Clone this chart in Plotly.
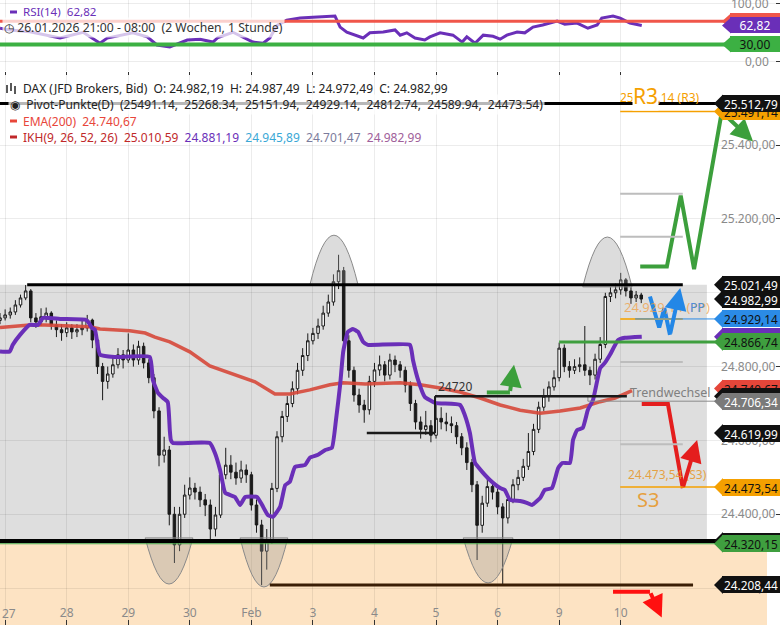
import plotly.graph_objects as go

# ---------------- data ----------------
day_labels = ["27", "28", "29", "30", "Feb", "3", "4", "5", "6", "9", "10"]

first_open = 24925
close = [24932, 24940, 24948, 24967, 24986, 25005, 24932, 24921, 24935, 24945,
         24913, 24900, 24892, 24905, 24894, 24900, 24905, 24926, 24872, 24800,
         24760, 24780, 24805, 24832, 24818, 24845, 24818, 24855, 24810, 24770,
         24680, 24560, 24574, 24400, 24317, 24400, 24452, 24471, 24460, 24439,
         24425, 24360, 24398, 24507, 24533, 24514, 24498, 24520, 24507, 24425,
         24371, 24300, 24330, 24470, 24610, 24665, 24700, 24740, 24790, 24830,
         24870, 24890, 24910, 24945, 24975, 25030, 25060, 24870, 24790, 24723,
         24696, 24683, 24760, 24791, 24805, 24777, 24818, 24805, 24790, 24750,
         24700, 24650, 24630, 24640, 24614, 24660, 24650, 24645, 24640, 24610,
         24580, 24540, 24480, 24370, 24430, 24475, 24460, 24420, 24390, 24440,
         24480, 24500, 24530, 24570, 24630, 24690, 24720, 24745, 24770, 24850,
         24800, 24790, 24800, 24805, 24790, 24777, 24820, 24860, 24990, 25000,
         25008, 25035, 25005, 24986, 24994, 24983]
high = [24945, 24955, 24960, 24980, 24995, 25021, 25010, 24945, 24958, 24960,
        24950, 24925, 24915, 24920, 24915, 24915, 24925, 24940, 24930, 24880,
        24810, 24800, 24825, 24850, 24845, 24890, 24860, 24870, 24865, 24820,
        24780, 24690, 24610, 24585, 24420, 24420, 24480, 24500, 24485, 24475,
        24455, 24440, 24420, 24520, 24580, 24560, 24540, 24545, 24535, 24515,
        24440, 24385, 24360, 24485, 24625, 24680, 24720, 24760, 24810, 24850,
        24890, 24905, 24930, 24965, 24995, 25050, 25103, 25070, 24885, 24800,
        24740, 24710, 24775, 24810, 24830, 24815, 24835, 24830, 24815, 24800,
        24760, 24710, 24665, 24680, 24655, 24700, 24690, 24675, 24665, 24650,
        24620, 24595, 24550, 24490, 24450, 24500, 24490, 24470, 24430, 24455,
        24495, 24520, 24550, 24620, 24645, 24705, 24740, 24760, 24790, 24865,
        24860, 24815, 24820, 24825, 24910, 24800, 24835, 24880, 25000, 25015,
        25025, 25054, 25040, 25015, 25005, 25000]
low = [24915, 24925, 24930, 24940, 24960, 24980, 24920, 24905, 24910, 24920,
       24900, 24880, 24870, 24880, 24875, 24880, 24885, 24895, 24850, 24780,
       24709, 24740, 24770, 24795, 24795, 24810, 24800, 24805, 24795, 24755,
       24660, 24530, 24540, 24370, 24268, 24300, 24390, 24440, 24440, 24420,
       24395, 24325, 24340, 24390, 24495, 24495, 24480, 24485, 24485, 24410,
       24350, 24208, 24250, 24320, 24460, 24595, 24650, 24690, 24725, 24775,
       24815, 24860, 24875, 24900, 24935, 24965, 25010, 24850, 24770, 24705,
       24675, 24648, 24670, 24745, 24775, 24760, 24765, 24785, 24770, 24730,
       24680, 24630, 24605, 24615, 24595, 24605, 24630, 24625, 24620, 24590,
       24560, 24520, 24460, 24276, 24350, 24420, 24440, 24400, 24210, 24375,
       24430, 24465, 24490, 24520, 24560, 24620, 24680, 24705, 24735, 24760,
       24785, 24770, 24780, 24785, 24775, 24750, 24765, 24810, 24850, 24975,
       24985, 24995, 24990, 24970, 24975, 24972]

ema_x = [0, 5.8, 8.8, 17.5, 19.5, 25.3, 28.3, 30.2, 33.1, 37.0, 40.9, 44.8, 49.7, 53.6, 56.5, 60.4,
         64.3, 66.9, 71.2, 78.0, 81.9, 85.8, 89.7, 93.6, 97.5, 101.4, 105.3, 109.2, 113.1, 117.0, 119.9, 123.2]
ema_v = [24906, 24913, 24913, 24908, 24902, 24897, 24891, 24880, 24867, 24840, 24802, 24783, 24759, 24726,
         24726, 24737, 24751, 24756, 24753, 24756, 24751, 24742, 24731, 24715, 24696, 24682, 24674, 24680,
         24688, 24705, 24715, 24735]

ikh_x = [0, 1.9, 2.5, 3.9, 5.8, 7.4, 8.4, 11.7, 16.6, 17.2, 17.9, 18.5, 19.5, 22.4, 29.2, 29.8, 30.8, 31.8,
         32.7, 33.1, 33.3, 33.7, 40.9, 41.9, 42.9, 43.9, 45.8, 46.8, 47.8, 50.1, 51.1, 52.2, 53.2, 54.6, 55.6,
         56.5, 57.5, 59.5, 60.4, 62.0, 63.4, 64.7, 65.5, 66.3, 66.9, 67.8, 68.8, 69.8, 70.8, 71.7, 79.9, 80.5,
         81.5, 82.8, 84.8, 89.7, 90.6, 91.6, 92.6, 94.0, 95.5, 97.5, 98.4, 99.4, 101.4, 102.7, 103.7, 105.3,
         106.2, 107.6, 108.8, 109.6, 111.1, 111.7, 112.5, 113.6, 114.6, 115.6, 117.0, 117.9, 118.9, 120.5,
         121.8, 125.1]
ikh_v = [24841, 24841, 24859, 24886, 24913, 24913, 24932, 24929, 24927, 24921, 24905, 24900, 24832, 24826,
         24826, 24764, 24729, 24715, 24704, 24628, 24601, 24593, 24593, 24566, 24520, 24458, 24447, 24425,
         24447, 24447, 24425, 24398, 24393, 24420, 24479, 24488, 24528, 24534, 24553, 24561, 24574, 24580,
         24656, 24750, 24840, 24894, 24902, 24894, 24867, 24859, 24859, 24818, 24764, 24718, 24702, 24696,
         24669, 24620, 24539, 24515, 24493, 24471, 24466, 24439, 24436, 24431, 24425, 24444, 24466, 24471,
         24525, 24539, 24539, 24601, 24628, 24634, 24683, 24710, 24796, 24810, 24832, 24872, 24878, 24881]

rsi_x = [0, 1.9, 5.8, 9.7, 11.7, 16.2, 19.5, 20.9, 25.9, 28.7, 30.6, 33.1, 36.5, 39.0, 41.5, 42.5, 45.4,
         49.3, 51.3, 52.6, 54.0, 55.9, 58.5, 61.0, 65.3, 66.3, 67.6, 70.8, 72.1, 74.7, 77.0, 78.0, 79.3, 80.9,
         82.8, 83.8, 85.8, 88.3, 90.1, 91.0, 92.6, 94.2, 96.1, 97.5, 98.8, 100.8, 102.3, 103.9, 105.8, 108.6,
         110.1, 112.5, 114.6, 116.4, 117.3, 119.5, 120.9, 122.8, 125.1]
rsi_v = [58, 55, 52, 44, 41, 51, 32, 41, 50, 43, 29, 25.5, 37.6, 39, 34, 42, 51, 34, 32, 41, 63, 72, 75.6,
         77, 79, 60, 51, 41, 50, 51.5, 55, 46, 50, 41, 37.6, 43, 50, 46, 34, 43, 32, 46, 44, 39, 46, 51.5, 50,
         60, 63.6, 70.5, 65, 67, 58, 63.6, 75.6, 79, 75.6, 67, 62.82]

# pivot levels R3, R2, R1, PP, S1, S2, S3
pivots = [25491.14, 25268.34, 25151.94, 24929.14, 24812.74, 24589.94, 24473.54]
level_r3_line = 25512.79
level_top = 25021.49
level_box_low = 24327.56
level_support = 24320.15
level_low = 24208.44
level_green = 24866.74
level_trend = 24706.34
level_step_low = 24619.99
level_step_high = 24720

rsi_upper, rsi_lower, rsi_last = 70, 30, 62.82

# right-hand price tags (value, background, text colour)
main_tags = [
    (25491.14, "#f5a000", "#111111"),
    (25512.79, "#111111", "#ffffff"),
    (25021.49, "#111111", "#ffffff"),
    (24982.99, "#111111", "#ffffff"),
    (24929.14, "#2b8be6", "#111111"),
    (24881.19, "#6a2fb8", "#ffffff"),
    (24866.74, "#3f9f3f", "#111111"),
    (24740.67, "#e5463a", "#111111"),
    (24719.51, "#111111", "#ffffff"),
    (24706.34, "#7a7a7a", "#ffffff"),
    (24619.99, "#111111", "#ffffff"),
    (24473.54, "#f5a000", "#111111"),
    (24327.56, "#111111", "#ffffff"),
    (24320.15, "#3f9f3f", "#111111"),
    (24208.44, "#111111", "#ffffff"),
]
rsi_tags = [(70, "#f0564a", "#ffffff"), (62.82, "#6a2fb8", "#ffffff"), (30, "#3cb043", "#111111")]

# hand-drawn arrows (x in bar units, y in price)
green_zig_x = [124.8, 130.0, 132.7, 135.3, 140.7]
green_zig_v = [25071, 25071, 25263, 25064, 25490]
green_zig_tip = (146.8, 25410)
blue_w_x = [126.7, 128.5, 129.5, 130.6]
blue_w_v = [24990, 24906, 24958, 24886]
blue_w_tip = (132.6, 25013)
red_x = [125.1, 130.2, 133.1]
red_v = [24699, 24699, 24471]
red_tip = (135.9, 24601)
red2_x = [119.5, 126.7]
red2_v = [24190, 24190]
red2_tip = (129.0, 24120)
green2_x = [94.9, 99.4]
green2_v = [24730, 24730]
green2_tip = (100.2, 24805)

# arcs: (x_start, x_end, base level, apex level)
arcs_top = [(60.4, 69.8, 25021, 25156), (113.6, 123.2, 25016, 25151)]
arcs_bottom = [(28.3, 37.6, 24336, 24211), (46.8, 56.1, 24336, 24203), (90.3, 100.0, 24336, 24214)]

# ---------------- figure ----------------
FONT = "Noto Sans"
X_RANGE = [0, 152.05]
Y_RANGE = [24100, 25590]
Y2_RANGE = [-16.1, 106.9]
day_ticks = [1 + 12 * k for k in range(len(day_labels))]


def de(v, nd=2):
    s = f"{v:,.{nd}f}"
    return s.replace(",", "#").replace(".", ",").replace("#", ".")


opens = [first_open] + close[:-1]

fig = go.Figure()
fig.add_trace(go.Candlestick(
    x=list(range(len(close))), open=opens, high=high, low=low, close=close,
    increasing=dict(line=dict(color="#1a1a1a", width=1), fillcolor="#ffffff"),
    decreasing=dict(line=dict(color="#1a1a1a", width=1), fillcolor="#1a1a1a"),
    xaxis="x", yaxis="y", showlegend=False, hoverinfo="skip"))
fig.add_trace(go.Scatter(x=ema_x, y=ema_v, mode="lines", line=dict(color="rgba(214,72,58,0.9)", width=3.5),
                         xaxis="x", yaxis="y", hoverinfo="skip"))
fig.add_trace(go.Scatter(x=ikh_x, y=ikh_v, mode="lines",
                         line=dict(color="#6a2fb8", width=4, shape="spline", smoothing=0.4),
                         xaxis="x", yaxis="y", hoverinfo="skip"))
fig.add_trace(go.Scatter(x=rsi_x, y=rsi_v, mode="lines", line=dict(color="#6a2fb8", width=3),
                         xaxis="x2", yaxis="y2", hoverinfo="skip"))

annotations = []
shapes = []

# chart texts (drawn first so that later items cover them)
annotations.append(dict(x=128.7, y=25528, xref="x", yref="y", text=de(pivots[0]) + " (R3)", showarrow=False,
                        font=dict(family=FONT, size=12, color="#f5a000")))
annotations.append(dict(x=130.0, y=24962, xref="x", yref="y", text=de(pivots[3]) + " (PP)", showarrow=False,
                        font=dict(family=FONT, size=13, color="rgba(240,160,70,0.75)")))
annotations.append(dict(x=130.2, y=24507, xref="x", yref="y", text=de(pivots[6]) + " (S3)", showarrow=False,
                        font=dict(family=FONT, size=12, color="rgba(230,150,40,0.85)")))
annotations.append(dict(x=125.9, y=25533, xref="x", yref="y", text="R3", showarrow=False, bgcolor="white",
                        borderpad=0, font=dict(family=FONT, size=21, color="#f5a000")))
annotations.append(dict(x=135.9, y=24959, xref="x", yref="y", text="PP", showarrow=False,
                        font=dict(family=FONT, size=12, color="#4a8fe0")))
annotations.append(dict(x=126.3, y=24439, xref="x", yref="y", text="S3", showarrow=False,
                        font=dict(family=FONT, size=20, color="#e6a040")))
annotations.append(dict(x=88.7, y=24745, xref="x", yref="y", text="24720", showarrow=False,
                        font=dict(family=FONT, size=12, color="#333333")))
annotations.append(dict(x=130.8, y=24731, xref="x", yref="y", text="Trendwechsel", showarrow=False,
                        font=dict(family=FONT, size=12.5, color="#808080")))

arrows = [
    (green_zig_x, green_zig_v, green_zig_tip, "#3c9f3c"),
    (blue_w_x, blue_w_v, blue_w_tip, "#2387e6"),
    (red_x, red_v, red_tip, "#e41e1e"),
    (red2_x, red2_v, red2_tip, "#ff1010"),
    (green2_x, green2_v, green2_tip, "#3c9f3c"),
]
for xs, vs, tip, col in arrows:
    fig.add_trace(go.Scatter(x=xs, y=vs, mode="lines", line=dict(color=col, width=4),
                             xaxis="x", yaxis="y", hoverinfo="skip"))
    annotations.append(dict(x=tip[0], y=tip[1], ax=xs[-1], ay=vs[-1], xref="x", yref="y", axref="x",
                            ayref="y", text="", showarrow=True, arrowhead=2, arrowsize=1.1, arrowwidth=4,
                            arrowcolor=col, standoff=0, startstandoff=0))

# background zones
shapes.append(dict(type="rect", xref="paper", yref="y", x0=0, x1=767 / 780, y0=Y_RANGE[0], y1=level_support,
                   fillcolor="#fde3c3", line=dict(width=0), layer="below"))
shapes.append(dict(type="rect", xref="x", yref="y", x0=-1, x1=137.8, y0=level_box_low, y1=level_top,
                   fillcolor="#dedede", line=dict(width=0), layer="below"))

# arcs
for x0, x1, b, a in arcs_top + arcs_bottom:
    xm = (x0 + x1) / 2
    shapes.append(dict(type="path", xref="x", yref="y",
                       path=f"M {x0},{b} Q {xm},{2 * a - b} {x1},{b} Z",
                       fillcolor="rgba(150,150,150,0.33)", line=dict(color="#8a8a8a", width=1), layer="above"))


def hline(y, x0, x1, color, width, xref="x", yref="y"):
    shapes.append(dict(type="line", xref=xref, yref=yref, x0=x0, x1=x1, y0=y, y1=y,
                       line=dict(color=color, width=width), layer="above"))


TAG_X = 0.92
XTAG = TAG_X * X_RANGE[1]
hline(level_r3_line, 0, TAG_X, "#000000", 3, xref="paper")
hline(level_box_low, 0, TAG_X, "#000000", 4, xref="paper")
hline(level_support, 0, TAG_X, "#3f9f3f", 1, xref="paper")
hline(level_green, 109.0, XTAG, "#3f9f3f", 3)
hline(level_trend, 114.6, XTAG, "#8a8a8a", 1)
shapes.append(dict(type="line", xref="x", yref="y", x0=114.6, x1=114.6, y0=level_trend, y1=level_step_high,
                   line=dict(color="#8a8a8a", width=1), layer="above"))
hline(level_top, 5.3, 133.1, "#000000", 3)
hline(level_low, 52.6, 135.1, "#3a1e05", 3)
hline(level_step_low, 71.5, 84.8, "#1a1a1a", 2.5)
shapes.append(dict(type="line", xref="x", yref="y", x0=84.8, x1=84.8, y0=level_step_low, y1=level_step_high,
                   line=dict(color="#1a1a1a", width=2), layer="above"))
hline(level_step_high, 84.8, 122.2, "#1a1a1a", 2.5)
for i, p in enumerate(pivots):
    if i in (0, 6):
        hline(p, 120.9, XTAG, "#f5a000", 1.5)
    elif i == 3:
        hline(p, 120.9, 133.1, "#f0b030", 2)
        hline(p, 123.8, XTAG, "#2b8be6", 1)
    else:
        hline(p, 120.9, 133.1, "#bdbdbd", 2)
hline(rsi_upper, 0, 0.93, "#f0564a", 3, xref="paper", yref="y2")
hline(rsi_lower, 0, 0.93, "#3cb043", 4, xref="paper", yref="y2")

# axis texts placed by hand where plotly would hide them
annotations.append(dict(x=8.5 / 780, y=1 - 613 / 625, xref="paper", yref="paper", xanchor="center",
                        yanchor="middle", text=day_labels[0], showarrow=False,
                        font=dict(family=FONT, size=12, color="#8a8a8a")))
annotations.append(dict(x=771 / 780, y=100, xref="paper", yref="y2", xanchor="right", yanchor="middle",
                        text=de(100), showarrow=False, font=dict(family=FONT, size=12, color="#8a8a8a")))
annotations.append(dict(x=771 / 780, y=0, xref="paper", yref="y2", xanchor="right", yanchor="middle",
                        text=de(0), showarrow=False, font=dict(family=FONT, size=12, color="#8a8a8a")))

# price tags
H_MAIN = 9 / (550 / (Y_RANGE[1] - Y_RANGE[0]))
for v, bg, fg in main_tags:
    shapes.append(dict(type="path", xref="paper", yref="y",
                       path=f"M {723 / 780},{v + H_MAIN} L {714 / 780},{v} L {723 / 780},{v - H_MAIN} Z",
                       fillcolor=bg, line=dict(width=0), layer="above"))
    annotations.append(dict(x=1, y=v, xref="paper", yref="y", xanchor="right", yanchor="middle",
                            text=de(v), showarrow=False, bgcolor=bg, borderpad=0, borderwidth=1,
                            bordercolor=bg, width=56, height=15, align="center",
                            font=dict(family=FONT, size=11.8, color=fg)))
H_RSI = 8 / (71 / (Y2_RANGE[1] - Y2_RANGE[0]))
for v, bg, fg in rsi_tags:
    shapes.append(dict(type="path", xref="paper", yref="y2",
                       path=f"M {731 / 780},{v + H_RSI} L {722 / 780},{v} L {731 / 780},{v - H_RSI} Z",
                       fillcolor=bg, line=dict(width=0), layer="above"))
    annotations.append(dict(x=1, y=v, xref="paper", yref="y2", xanchor="right", yanchor="middle",
                            text=de(v), showarrow=False, bgcolor=bg, borderpad=1, borderwidth=1,
                            bordercolor=bg, width=46, height=12, align="center",
                            font=dict(family=FONT, size=12, color=fg)))


# legend rows
def prow(py):
    return 1 - py / 625


NB = "\u00a0"
S2 = NB + NB
legend_rows = [
    (12, f"RSI(14){S2}62,82", "#6a2fb8", None, 21, 11.6),
    (28, f"\u25f7{NB}26.01.2026 21:00 - 08:00{S2}(2 Wochen, 1 Stunde)", "#333333",
     "rgba(255,255,255,0.72)", 2, 12.2),
    (89, f"DAX (JFD Brokers, Bid){S2}O: 24.982,19{S2}H: 24.987,49{S2}L: 24.972,49{S2}C: 24.982,99",
     "#222222", None, 21, 12),
    (104, f"\u25c9{S2}Pivot-Punkte(D){S2}(25491.14,{S2}25268.34,{S2}25151.94,{S2}24929.14,"
          f"{S2}24812.74,{S2}24589.94,{S2}24473.54)", "#222222", "rgba(255,255,255,0.72)", 8, 12),
    (121, f"EMA(200){S2}24.740,67", "#e8463a", None, 21, 12),
    (137, f"IKH(9, 26, 52, 26){S2}25.010,59{S2}<span style='color:#6a2fb8'>24.881,19</span>{S2}"
          f"<span style='color:#3aa8d6'>24.945,89</span>{S2}<span style='color:#7b7b9c'>24.701,47</span>{S2}"
          f"<span style='color:#a0609a'>24.982,99</span>", "#c0282a", None, 21, 12),
]
for py, txt, col, bg, px, fs in legend_rows:
    d = dict(x=px / 780, y=prow(py), xref="paper", yref="paper", xanchor="left", yanchor="middle",
             text=txt, showarrow=False, font=dict(family=FONT, size=fs, color=col), borderpad=1)
    if bg:
        d["bgcolor"] = bg
    annotations.append(d)

for py, col in [(12, "#6a2fb8"), (121, "#e8463a"), (137, "#c0282a")]:
    shapes.append(dict(type="rect", xref="paper", yref="paper", x0=10 / 780, x1=17 / 780,
                       y0=prow(py + 1.5), y1=prow(py - 1.5), fillcolor=col, line=dict(width=0), layer="above"))
for cx, top, bot in [(7, 85, 93), (11, 83, 91), (15, 86, 94)]:
    shapes.append(dict(type="line", xref="paper", yref="paper", x0=cx / 780, x1=cx / 780,
                       y0=prow(bot), y1=prow(top), line=dict(color="#222", width=1.5), layer="above"))

grid = "rgba(0,0,0,0.075)"
fig.update_layout(
    width=780, height=625, margin=dict(l=0, r=0, t=0, b=0),
    paper_bgcolor="white", plot_bgcolor="white", showlegend=False,
    font=dict(family=FONT),
    xaxis=dict(domain=[0, 1], range=X_RANGE, anchor="y", tickvals=day_ticks, ticktext=day_labels,
               ticks="inside", ticklen=5, tickcolor="#333", ticklabelposition="inside",
               tickfont=dict(family=FONT, size=12, color="#8a8a8a"), showgrid=True, gridcolor=grid,
               zeroline=False, showline=False, rangeslider=dict(visible=False), fixedrange=True),
    yaxis=dict(domain=[0, 0.88], range=Y_RANGE, side="right", anchor="x",
               tickvals=[24200, 24400, 24600, 24800, 25000, 25200, 25400],
               ticktext=[de(v) for v in [24200, 24400, 24600, 24800, 25000, 25200, 25400]],
               ticks="inside", ticklen=4, tickcolor="#333", ticklabelposition="inside",
               tickfont=dict(family=FONT, size=12, color="#8a8a8a"), showgrid=True, gridcolor=grid,
               zeroline=False, showline=False),
    xaxis2=dict(domain=[0, 1], range=X_RANGE, anchor="y2", tickvals=day_ticks, showticklabels=False,
                ticks="outside", ticklen=3, tickcolor="#333", showgrid=True, gridcolor=grid,
                zeroline=False, showline=False),
    yaxis2=dict(domain=[1 - 71 / 625, 1], range=Y2_RANGE, side="right", anchor="x2",
                tickvals=[0, 100], showticklabels=False, ticks="inside", ticklen=4, tickcolor="#333",
                showgrid=True, gridcolor=grid, zeroline=False, showline=False),
)
fig.layout.shapes = shapes
fig.layout.annotations = annotations

fig.write_html("out.html", config={"displayModeBar": False},
               post_script="document.body.style.margin='0';")
